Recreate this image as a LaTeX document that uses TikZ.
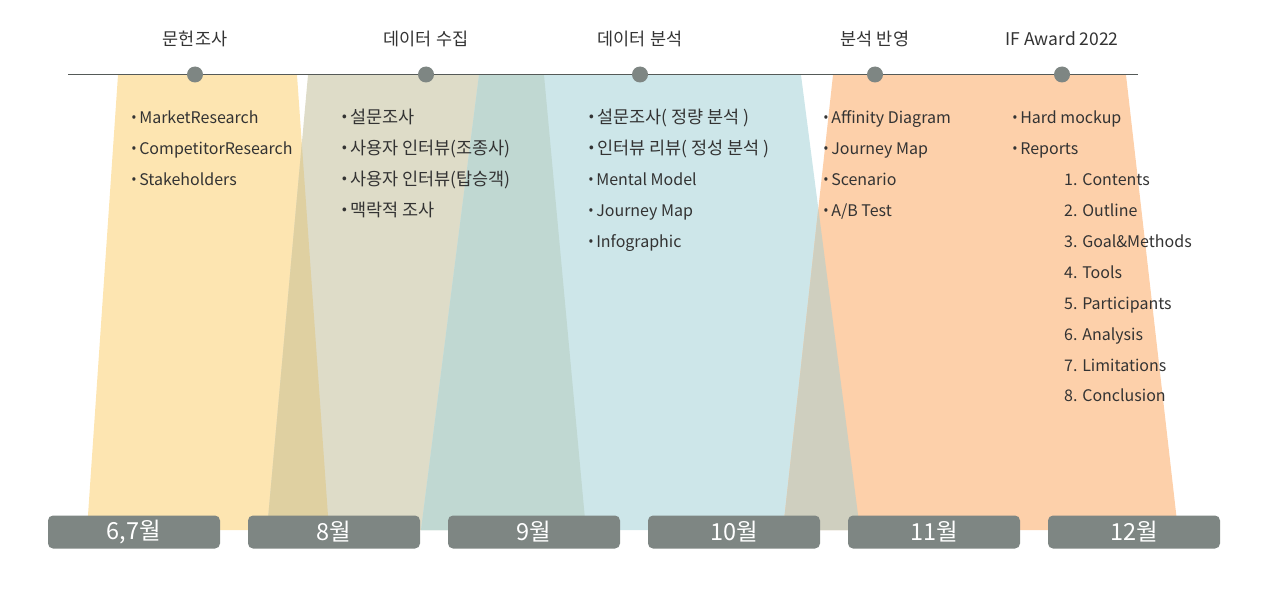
\documentclass[tikz,border=0pt]{standalone}
\usepackage{fontspec}
\setmainfont{Noto Sans CJK KR}
\definecolor{cy}{HTML}{FDE5B1}
\definecolor{cyb}{HTML}{DFD0A1}
\definecolor{cbe}{HTML}{DEDCC8}
\definecolor{cbb}{HTML}{C0D8D2}
\definecolor{cbl}{HTML}{CDE6E9}
\definecolor{cbo}{HTML}{CFCFBF}
\definecolor{cor}{HTML}{FDD0AA}
\definecolor{cgr}{HTML}{7E8683}
\definecolor{cln}{HTML}{555A58}
\definecolor{ctx}{HTML}{333333}
\newcommand{\bul}{{\bfseries ·}\hspace{0.02em}}
\tikzset{
  head/.style={font=\fontsize{17.5}{20}\selectfont, text=ctx, inner sep=0pt},
  item/.style={font=\fontsize{16}{18}\selectfont, text=ctx, inner sep=0pt, anchor=base west},
  kitem/.style={font=\fontsize{17.5}{20}\selectfont, text=ctx, inner sep=0pt, anchor=base west},
  dot/.style={circle, fill=cgr, minimum size=16pt, inner sep=0pt},
  month/.style={rounded corners=5pt, fill=cgr, minimum width=172pt, minimum height=33pt, inner sep=0pt,
     text=white, font=\fontsize{23.5}{26}\selectfont},
}
\begin{document}
\begin{tikzpicture}[x=1pt,y=-1pt]
\useasboundingbox (0,0) rectangle (1280,594);
% trapezoids
\fill[cy]  (118,75)--(297,75)--(329,530)--(87,530)--cycle;
\fill[cbe] (308,75)--(544,75)--(586,530)--(267,530)--cycle;
\fill[cbl] (479,75)--(801,75)--(860,530)--(421,530)--cycle;
\fill[cor] (833,75)--(1126,75)--(1178,530)--(783,530)--cycle;
\begin{scope}
  \clip (118,75)--(297,75)--(329,530)--(87,530)--cycle;
  \fill[cyb] (308,75)--(544,75)--(586,530)--(267,530)--cycle;
\end{scope}
\begin{scope}
  \clip (308,75)--(544,75)--(586,530)--(267,530)--cycle;
  \fill[cbb] (479,75)--(801,75)--(860,530)--(421,530)--cycle;
\end{scope}
\begin{scope}
  \clip (479,75)--(801,75)--(860,530)--(421,530)--cycle;
  \fill[cbo] (833,75)--(1126,75)--(1178,530)--(783,530)--cycle;
\end{scope}
% timeline
\coordinate (ls) at (68,74.5);
\coordinate (le) at (1138,74.5);
\draw[cln, line width=1.3pt] (ls) -- (le);
\node[dot] (d1) at (195,74.5) {};
\node[dot] (d2) at (426,74.5) {};
\node[dot] (d3) at (640,74.5) {};
\node[dot] (d4) at (875,74.5) {};
\node[dot] (d5) at (1062,74.5) {};
\node[head] (h1) at (195,39) {문헌조사};
\node[head] (h2) at (426,39) {데이터 수집};
\node[head] (h3) at (640,39) {데이터 분석};
\node[head] (h4) at (875,39) {분석 반영};
\node[head] (h5) at (1062,39) {IF Award 2022};
% column 1
\node[item] (a1) at (129,123) {\bul MarketResearch};
\node[item] (a2) at (129,154) {\bul CompetitorResearch};
\node[item] (a3) at (129,185) {\bul Stakeholders};
% column 2
\node[kitem] (b1) at (339,123) {\bul 설문조사};
\node[kitem] (b2) at (339,154) {\bul 사용자 인터뷰(조종사)};
\node[kitem] (b3) at (339,185) {\bul 사용자 인터뷰(탑승객)};
\node[kitem] (b4) at (339,216) {\bul 맥락적 조사};
% column 3
\node[kitem] (c1) at (586,123) {\bul 설문조사( 정량 분석 )};
\node[kitem] (c2) at (586,154) {\bul 인터뷰 리뷰( 정성 분석 )};
\node[item] (c3) at (586,185) {\bul Mental Model};
\node[item] (c4) at (586,216) {\bul Journey Map};
\node[item] (c5) at (586,247) {\bul Infographic};
% column 4
\node[item] (e1) at (821,123) {\bul Affinity Diagram};
\node[item] (e2) at (821,154) {\bul Journey Map};
\node[item] (e3) at (821,185) {\bul Scenario};
\node[item] (e4) at (821,216) {\bul A/B Test};
% column 5
\node[item] (f1) at (1010,123) {\bul Hard mockup};
\node[item] (f2) at (1010,154) {\bul Reports};
\node[item] (g1) at (1064,185) {1. Contents};
\node[item] (g2) at (1064,216) {2. Outline};
\node[item] (g3) at (1064,247) {3. Goal\&Methods};
\node[item] (g4) at (1064,278) {4. Tools};
\node[item] (g5) at (1064,309) {5. Participants};
\node[item] (g6) at (1064,340) {6. Analysis};
\node[item] (g7) at (1064,371) {7. Limitations};
\node[item] (g8) at (1064,401) {8. Conclusion};
% months
\node[month] (m1) at (134,532) {6,7월};
\node[month] (m2) at (334,532) {8월};
\node[month] (m3) at (534,532) {9월};
\node[month] (m4) at (734,532) {10월};
\node[month] (m5) at (934,532) {11월};
\node[month] (m6) at (1134,532) {12월};
\end{tikzpicture}
\end{document}
